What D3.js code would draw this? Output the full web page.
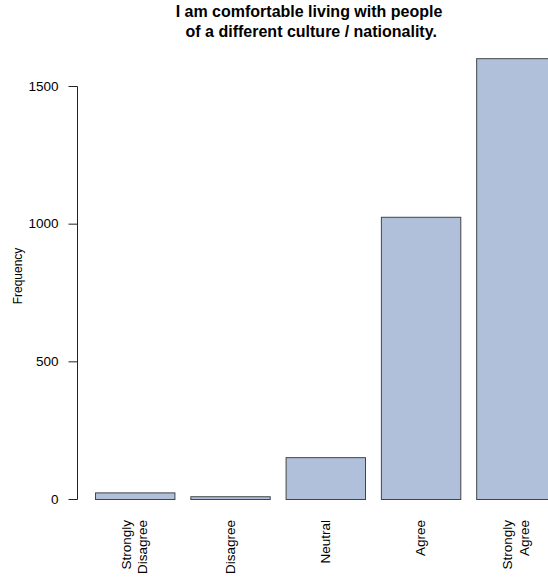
<!DOCTYPE html>
<html>
<head>
<meta charset="utf-8">
<script src="https://cdn.jsdelivr.net/npm/d3@7"></script>
<style>
  html, body { margin: 0; padding: 0; background: #fff; }
  svg { display: block; font-family: "Liberation Sans", Arial, sans-serif; }
</style>
</head>
<body>
<script>
const categories = [["Strongly", "Disagree"], ["Disagree"], ["Neutral"], ["Agree"], ["Strongly", "Agree"]];
const values = [24, 10, 152, 1025, 1601];
const yTicks = [0, 500, 1000, 1500];
const titleLines = ["I am comfortable living with people", " of a different culture / nationality."];
const yLabel = "Frequency";

const W = 548, H = 580;
const svg = d3.select("body").append("svg").attr("width", W).attr("height", H);

// R barplot units: bar i spans [0.2 + 1.2 i, 1.2 + 1.2 i]
const x = d3.scaleLinear().domain([-0.032, 6.232]).range([76.6, 574]);
const y = d3.scaleLinear().domain([0, 1500]).range([499, 86]);

const bars = values.map((v, i) => ({ v, l: 0.2 + 1.2 * i, r: 1.2 + 1.2 * i, lab: categories[i] }));

svg.append("g").selectAll("rect").data(bars).join("rect")
  .attr("x", d => x(d.l) + 0.5)
  .attr("y", d => y(d.v) + 0.5)
  .attr("width", d => x(d.r) - x(d.l))
  .attr("height", d => y(0) - y(d.v))
  .attr("fill", "#B0C0DB")
  .attr("stroke", "#444")
  .attr("stroke-width", 1);

// Y axis (R style: line from first to last tick)
const yAxis = svg.append("g").attr("transform", "translate(77.5,0)");
yAxis.append("line").attr("x1", 0).attr("x2", 0)
  .attr("y1", y(yTicks[0]) + 0.5).attr("y2", y(yTicks[yTicks.length - 1]) + 0.5)
  .attr("stroke", "#222");
yAxis.selectAll("line.tick").data(yTicks).join("line").attr("class", "tick")
  .attr("x1", -9).attr("x2", 0)
  .attr("y1", d => y(d) + 0.5).attr("y2", d => y(d) + 0.5)
  .attr("stroke", "#222");
yAxis.selectAll("text").data(yTicks).join("text")
  .attr("x", -19).attr("y", d => y(d))
  .attr("text-anchor", "end").attr("dominant-baseline", "central")
  .attr("font-size", "13.5px").attr("fill", "#000")
  .text(d => d);

// Y label
svg.append("text")
  .attr("transform", "translate(22,276) rotate(-90)")
  .attr("text-anchor", "middle")
  .attr("font-size", "12px").attr("fill", "#000")
  .text(yLabel);

// X category labels (rotated, perpendicular)
const lg = svg.append("g");
bars.forEach(d => {
  const cx = x((d.l + d.r) / 2);
  const n = d.lab.length;
  const t = lg.append("text")
    .attr("transform", `translate(${cx},520) rotate(-90)`)
    .attr("text-anchor", "end")
    .attr("font-size", "13.5px").attr("fill", "#000");
  d.lab.forEach((s, k) => {
    t.append("tspan").attr("x", 0)
      .attr("y", (k - (n - 1) / 2) * 16.5)
      .attr("dominant-baseline", "central")
      .text(s);
  });
});

// Title
const tt = svg.append("text")
  .attr("text-anchor", "middle")
  .attr("font-size", "16px").attr("font-weight", "bold").attr("fill", "#000")
  .attr("xml:space", "preserve");
titleLines.forEach((s, k) => {
  tt.append("tspan").attr("x", 309).attr("y", 17 + k * 19.5).text(s);
});
</script>
</body>
</html>
